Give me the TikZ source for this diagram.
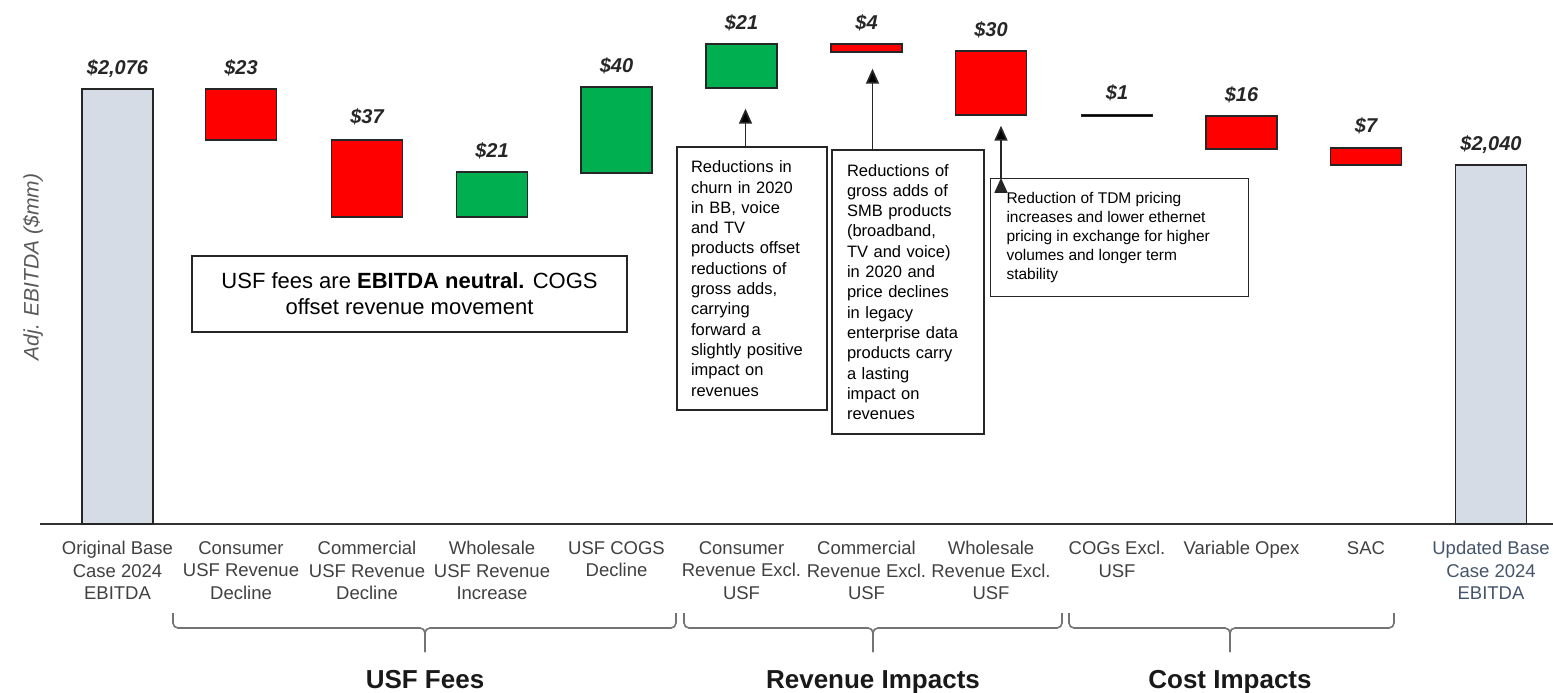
\documentclass[tikz,border=0pt]{standalone}
\usepackage{fontspec}
\setmainfont{Liberation Sans}
\usepackage{xcolor}
\usetikzlibrary{positioning}
\usetikzlibrary{arrows.meta}

\definecolor{lossred}{HTML}{FF0000}
\definecolor{gaingreen}{HTML}{00B050}
\definecolor{basegray}{HTML}{D6DCE5}
\definecolor{labelgray}{HTML}{404040}
\definecolor{slate}{HTML}{44546A}

\begin{document}
\begin{tikzpicture}[x=1pt,y=-1pt,>={Triangle[length=15pt,width=13pt]},
    bar/.style={draw=black!85,line width=1.4pt,minimum width=71pt,inner sep=0pt},
    loss/.style={bar,fill=lossred},
    gain/.style={bar,fill=gaingreen},
    total/.style={bar,fill=basegray},
    val/.style={font=\fontsize{20}{24}\selectfont\bfseries\itshape,text=black!85,anchor=base,inner sep=0pt},
    cat/.style={font=\fontsize{18.5}{22.5}\selectfont,text=labelgray,align=center,anchor=north,inner sep=0pt},
    note/.style={draw=black!85,line width=1.2pt,align=left,fill=white},
    group/.style={font=\fontsize{26}{30}\selectfont\bfseries,text=black!90,anchor=base},
    brace/.style={draw=black!55,line width=1.6pt,rounded corners=5pt}]
  \useasboundingbox (0,0) rectangle (1553,693);

  % axis
  \coordinate (ax0) at (40,524);
  \coordinate (ax1) at (1553,524);
  \draw[line width=1.3pt,black!80] (ax0) -- (ax1);

  % bars
  \node[total,minimum height=435pt] (b1) at (117.5,306.5) {};
  \node[loss,minimum height=51pt] (b2) at (241,114.5) {};
  \node[loss,minimum height=77pt] (b3) at (367,178.5) {};
  \node[gain,minimum height=45pt] (b4) at (492,194.5) {};
  \node[gain,minimum height=86pt] (b5) at (616.5,130) {};
  \node[gain,minimum height=44pt] (b6) at (741.5,66) {};
  \node[loss,minimum height=8pt] (b7) at (866.5,48) {};
  \node[loss,minimum height=64pt] (b8) at (991,83) {};
  \node[bar,fill=black,minimum height=2pt,line width=0.8pt] (b9) at (1117,115) {};
  \node[loss,minimum height=33pt] (b10) at (1241.5,132.5) {};
  \node[loss,minimum height=17pt] (b11) at (1366,156.5) {};
  \node[total,minimum height=359pt] (b12) at (1491,344.5) {};

  % values
  \node[above=14pt of b1,val] (v1) {\$2,076};
  \node[above=14pt of b2,val] (v2) {\$23};
  \node[above=16pt of b3,val] (v3) {\$37};
  \node[above=14pt of b4,val] (v4) {\$21};
  \node[above=14pt of b5,val] (v5) {\$40};
  \node[above=14pt of b6,val] (v6) {\$21};
  \node[above=14pt of b7,val] (v7) {\$4};
  \node[above=14pt of b8,val] (v8) {\$30};
  \node[above=14pt of b9,val] (v9) {\$1};
  \node[above=14pt of b10,val] (v10) {\$16};
  \node[above=15pt of b11,val] (v11) {\$7};
  \node[above=14pt of b12,val] (v12) {\$2,040};

  % categories
  \node[cat] (c1) at (117.5,541) {Original Base\\Case 2024\\EBITDA};
  \node[cat] (c2) at (241,541) {Consumer\\USF Revenue\\Decline};
  \node[cat] (c3) at (367,541) {Commercial\\USF Revenue\\Decline};
  \node[cat] (c4) at (492,541) {Wholesale\\USF Revenue\\Increase};
  \node[cat] (c5) at (616.5,541) {USF COGS\\Decline};
  \node[cat] (c6) at (741.5,541) {Consumer\\Revenue Excl.\\USF};
  \node[cat] (c7) at (866.5,541) {Commercial\\Revenue Excl.\\USF};
  \node[cat] (c8) at (991,541) {Wholesale\\Revenue Excl.\\USF};
  \node[cat] (c9) at (1117,541) {COGs Excl.\\USF};
  \node[cat] (c10) at (1241.5,541) {Variable Opex};
  \node[cat] (c11) at (1366,541) {SAC};
  \node[cat,text=slate] (c12) at (1491,541) {Updated Base\\Case 2024\\EBITDA};

  % y label
  \node[rotate=90,font=\fontsize{21}{25}\selectfont\itshape,text=black!65] (ylab) at (33,267) {Adj. EBITDA (\$mm)};

  % notes
  \node[note,align=center,font=\fontsize{22}{26}\selectfont,minimum width=435pt,minimum height=76pt] (n0) at (409.5,294)
    {USF fees are \textbf{EBITDA neutral.} COGS\\offset revenue movement};
  \node[note,text width=122pt,inner xsep=14pt,minimum height=263pt,font=\fontsize{16.5}{20.3}\selectfont] (n1) at (752,278.5)
    {Reductions in\\churn in 2020\\in BB, voice\\and TV\\products offset\\reductions of\\gross adds,\\carrying\\forward a\\slightly positive\\impact on\\revenues};
  \node[note,text width=122pt,inner xsep=15pt,minimum height=284pt,font=\fontsize{16.5}{20.3}\selectfont] (n2) at (908,292)
    {Reductions of\\gross adds of\\SMB products\\(broadband,\\TV and voice)\\in 2020 and\\price declines\\in legacy\\enterprise data\\products carry\\a lasting\\impact on\\revenues};
  \node[note,inner xsep=16pt,inner ysep=9pt,font=\fontsize{15.5}{19}\selectfont] (n3) at (1119.5,237.5)
    {\parbox[c][100pt][c]{226pt}{Reduction of TDM pricing\\increases and lower ethernet\\pricing in exchange for higher\\volumes and longer term\\stability}};

  % arrows
  \coordinate (t1) at ([xshift=4pt]b6.south);
  \coordinate (t2) at ([xshift=6pt]b7.south);
  \coordinate (t3) at ([xshift=10pt]b8.south);
  \path[->,line width=1.7pt,draw=black!85]
    (t1 |- n1.north) edge[shorten >=20pt] (t1)
    (t2 |- n2.north) edge[shorten >=16pt] (t2)
    (t3 |- n3.north) edge[shorten >=10pt] (t3);

  % braces
  \draw[brace] (173,613) -- (173,628) -- (425,628) -- (425,652);
  \draw[brace] (676,613) -- (676,628) -- (425,628) -- (425,652);
  \draw[brace] (684,613) -- (684,628) -- (873,628) -- (873,652);
  \draw[brace] (1062,613) -- (1062,628) -- (873,628) -- (873,652);
  \draw[brace] (1069,613) -- (1069,628) -- (1230,628) -- (1230,652);
  \draw[brace] (1394,613) -- (1394,628) -- (1230,628) -- (1230,652);

  \node[group] (g1) at (425,688) {USF Fees};
  \node[group] (g2) at (873,688) {Revenue Impacts};
  \node[group] (g3) at (1230,688) {Cost Impacts};
\end{tikzpicture}
\end{document}
